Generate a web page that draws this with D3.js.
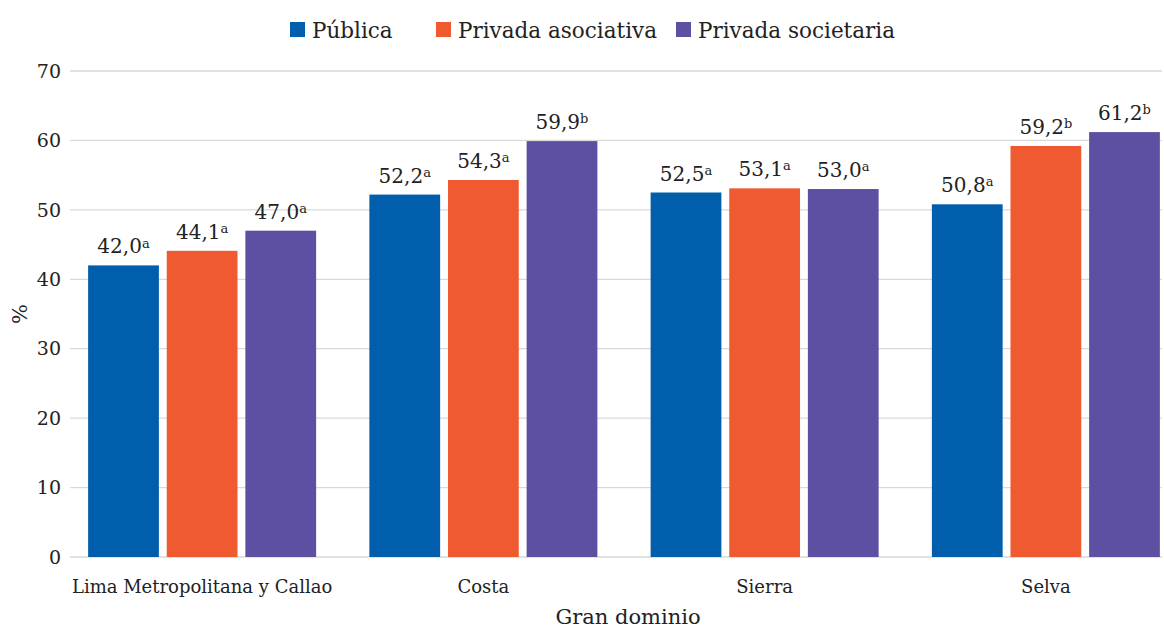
<!DOCTYPE html>
<html lang="es">
<head>
<meta charset="UTF-8">
<script src="https://cdn.jsdelivr.net/npm/d3@7/dist/d3.min.js"></script>
<style>
  body { margin: 0; background: #fff; }
</style>
</head>
<body>
<script>
  var categories = ["Lima Metropolitana y Callao", "Costa", "Sierra", "Selva"];
  var seriesNames = ["Pública", "Privada asociativa", "Privada societaria"];
  var publica = [42.0, 52.2, 52.5, 50.8];
  var asociativa = [44.1, 54.3, 53.1, 59.2];
  var societaria = [47.0, 59.9, 53.0, 61.2];
  var letters = [
    ["a", "a", "a", "a"],
    ["a", "a", "a", "b"],
    ["a", "b", "a", "b"]
  ];
  var yTicks = [0, 10, 20, 30, 40, 50, 60, 70];
  var colors = ["#005eac", "#f05a30", "#5d4fa1"];

  var width = 1164, height = 630;
  var values = [publica, asociativa, societaria];

  var data = categories.map(function(c, i) {
    return {
      cat: c,
      bars: seriesNames.map(function(s, j) {
        return { series: s, j: j, value: values[j][i], letter: letters[j][i] };
      })
    };
  });

  var svg = d3.select("body").append("svg")
    .attr("width", width)
    .attr("height", height)
    .style("font-family", "'DejaVu Serif', 'Liberation Serif', serif")
    .attr("fill", "#222");

  var y = d3.scaleLinear().domain([0, 70]).range([557, 71]);
  var x0 = d3.scaleBand().domain(categories).range([61.5, 1186.5]);
  var x1 = d3.scaleBand().domain(seriesNames).range([-114, 114]).paddingInner(0.1);

  // gridlines
  svg.append("g").selectAll("line")
    .data(yTicks)
    .enter().append("line")
    .attr("x1", 70).attr("x2", 1162)
    .attr("y1", function(d) { return y(d); })
    .attr("y2", function(d) { return y(d); })
    .attr("stroke", "#d9d9d9")
    .attr("stroke-width", 1.3);

  // y tick labels
  svg.append("g").selectAll("text")
    .data(yTicks)
    .enter().append("text")
    .attr("x", 61)
    .attr("y", function(d) { return y(d); })
    .attr("dy", "0.35em")
    .attr("text-anchor", "end")
    .attr("font-size", 19)
    .text(function(d) { return d; });

  var g = svg.selectAll(".grp")
    .data(data)
    .enter().append("g")
    .attr("transform", function(d) {
      return "translate(" + (x0(d.cat) + x0.bandwidth() / 2) + ",0)";
    });

  g.selectAll("rect")
    .data(function(d) { return d.bars; })
    .enter().append("rect")
    .attr("x", function(d) { return x1(d.series); })
    .attr("width", x1.bandwidth())
    .attr("y", function(d) { return y(d.value); })
    .attr("height", function(d) { return y(0) - y(d.value); })
    .attr("fill", function(d) { return colors[d.j]; });

  var lab = g.selectAll(".val")
    .data(function(d) { return d.bars; })
    .enter().append("text")
    .attr("class", "val")
    .attr("x", function(d) { return x1(d.series) + x1.bandwidth() / 2; })
    .attr("y", function(d) { return y(d.value) - 12; })
    .attr("text-anchor", "middle")
    .attr("font-size", 20);
  lab.append("tspan")
    .text(function(d) { return d3.format(".1f")(d.value).replace(".", ","); });
  lab.append("tspan")
    .attr("dy", "-0.45em")
    .attr("font-size", 13)
    .text(function(d) { return d.letter; });

  // category labels
  g.append("text")
    .attr("x", 0)
    .attr("y", 593)
    .attr("text-anchor", "middle")
    .attr("font-size", 18)
    .text(function(d) { return d.cat; });

  // axis titles
  svg.append("text")
    .attr("x", 628)
    .attr("y", 624)
    .attr("text-anchor", "middle")
    .attr("font-size", 21)
    .text("Gran dominio");

  svg.append("text")
    .attr("transform", "translate(27,314) rotate(-90)")
    .attr("text-anchor", "middle")
    .attr("font-size", 21)
    .text("%");

  // legend
  var legX = [290, 436, 676];
  var leg = svg.selectAll(".leg")
    .data(seriesNames)
    .enter().append("g")
    .attr("transform", function(d, i) { return "translate(" + legX[i] + ",22)"; });
  leg.append("rect")
    .attr("width", 15).attr("height", 15)
    .attr("fill", function(d, i) { return colors[i]; });
  leg.append("text")
    .attr("x", 22)
    .attr("y", 16)
    .attr("font-size", 21.5)
    .text(function(d) { return d; });
</script>
</body>
</html>
